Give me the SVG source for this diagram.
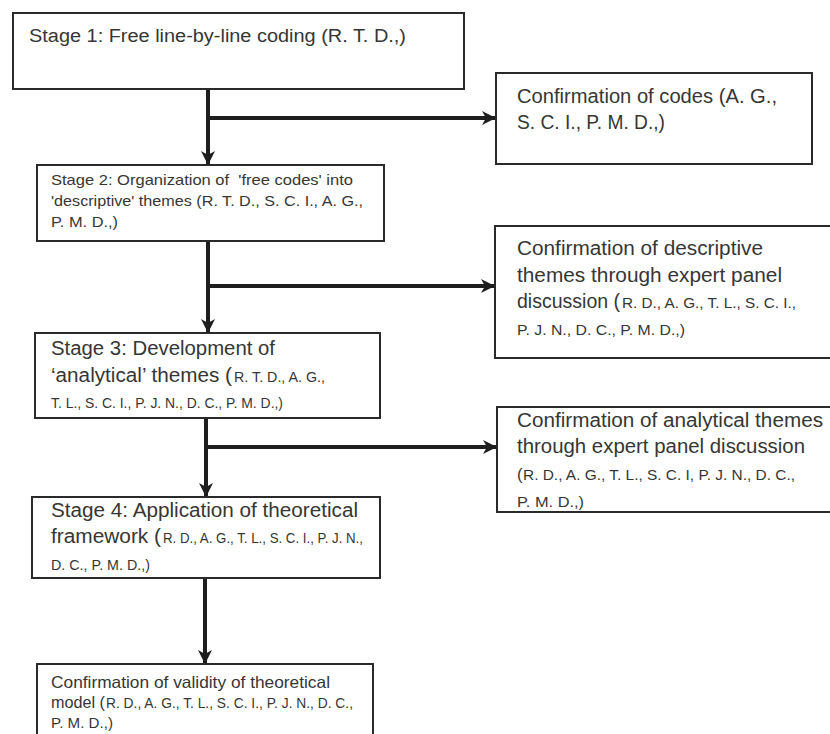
<svg xmlns="http://www.w3.org/2000/svg" width="830" height="734" viewBox="0 0 830 734">
  <style>
    .box { fill: #ffffff; stroke: #2a2a2a; stroke-width: 2; }
    .link { stroke: #1e1e1e; stroke-width: 4; fill: none; }
    text { font-family: "Liberation Sans", Arial, sans-serif; fill: #363636; }
    .s1 { font-size: 18px; }
    .lg { font-size: 20px; }
    .md { font-size: 15px; }
    .m5 { font-size: 16.5px; }
    .sm { font-size: 14px; }
  </style>
  <defs>
    <marker id="arrow" viewBox="0 0 14 14" refX="13" refY="7" markerWidth="14" markerHeight="14" markerUnits="userSpaceOnUse" orient="auto">
      <path d="M0,0 L14,7 L0,14 L4,7 Z" fill="#1e1e1e"/>
    </marker>
  </defs>
  <rect width="830" height="734" fill="#ffffff"/>

  <!-- connectors -->
  <g id="connectors">
    <path class="link" d="M208,89 V164" marker-end="url(#arrow)"/>
    <path class="link" d="M208,118 H495" marker-end="url(#arrow)"/>
    <path class="link" d="M208,241 V332" marker-end="url(#arrow)"/>
    <path class="link" d="M208,286 H494" marker-end="url(#arrow)"/>
    <path class="link" d="M206,418 V496" marker-end="url(#arrow)"/>
    <path class="link" d="M206,447 H496" marker-end="url(#arrow)"/>
    <path class="link" d="M205,578 V663" marker-end="url(#arrow)"/>
  </g>

  <!-- Stage 1 -->
  <g id="stage1">
    <rect class="box" x="13" y="13" width="451" height="76"/>
    <text class="s1" x="29" y="42" textLength="377" lengthAdjust="spacingAndGlyphs">Stage 1: Free line-by-line coding (R. T. D.,)</text>
  </g>

  <!-- Confirmation of codes -->
  <g id="confirm1">
    <rect class="box" x="496" y="73" width="316" height="91"/>
    <text class="lg" x="517" y="103" textLength="260" lengthAdjust="spacingAndGlyphs">Confirmation of codes (A. G.,</text>
    <text class="lg" x="517" y="129" textLength="148" lengthAdjust="spacingAndGlyphs">S. C. I., P. M. D.,)</text>
  </g>

  <!-- Stage 2 -->
  <g id="stage2">
    <rect class="box" x="37" y="165" width="347" height="76"/>
    <text class="md" x="51" y="185" textLength="302" lengthAdjust="spacingAndGlyphs" xml:space="preserve">Stage 2: Organization of  'free codes' into</text>
    <text class="md" x="51" y="206" textLength="312" lengthAdjust="spacingAndGlyphs">'descriptive' themes (R. T. D., S. C. I., A. G.,</text>
    <text class="md" x="51" y="227" textLength="67" lengthAdjust="spacingAndGlyphs">P. M. D.,)</text>
  </g>

  <!-- Confirmation of descriptive themes -->
  <g id="confirm2">
    <rect class="box" x="495" y="226" width="345" height="132"/>
    <text class="lg" x="517" y="255" textLength="246" lengthAdjust="spacingAndGlyphs">Confirmation of descriptive</text>
    <text class="lg" x="517" y="282" textLength="265" lengthAdjust="spacingAndGlyphs">themes through expert panel</text>
    <text class="lg" x="517" y="308" textLength="103" lengthAdjust="spacingAndGlyphs">discussion (</text>
    <text class="sm" x="622" y="308" textLength="174" lengthAdjust="spacingAndGlyphs">R. D., A. G., T. L., S. C. I.,</text>
    <text class="sm" x="517" y="335" textLength="168" lengthAdjust="spacingAndGlyphs">P. J. N., D. C., P. M. D.,)</text>
  </g>

  <!-- Stage 3 -->
  <g id="stage3">
    <rect class="box" x="35" y="333" width="345" height="85"/>
    <text class="lg" x="51" y="355" textLength="224" lengthAdjust="spacingAndGlyphs">Stage 3: Development of</text>
    <text class="lg" x="51" y="382" textLength="181" lengthAdjust="spacingAndGlyphs">‘analytical’ themes (</text>
    <text class="sm" x="234" y="382" textLength="91" lengthAdjust="spacingAndGlyphs">R. T. D., A. G.,</text>
    <text class="sm" x="51" y="408" textLength="232" lengthAdjust="spacingAndGlyphs">T. L., S. C. I., P. J. N., D. C., P. M. D.,)</text>
  </g>

  <!-- Confirmation of analytical themes -->
  <g id="confirm3">
    <rect class="box" x="497" y="407" width="343" height="105"/>
    <text class="lg" x="517" y="427" textLength="306" lengthAdjust="spacingAndGlyphs">Confirmation of analytical themes</text>
    <text class="lg" x="517" y="453" textLength="288" lengthAdjust="spacingAndGlyphs">through expert panel discussion</text>
    <text class="m5" x="517" y="480">(</text>
    <text class="sm" x="523" y="480" textLength="272" lengthAdjust="spacingAndGlyphs">R. D., A. G., T. L., S. C. I, P. J. N., D. C.,</text>
    <text class="sm" x="517" y="507" textLength="67" lengthAdjust="spacingAndGlyphs">P. M. D.,)</text>
  </g>

  <!-- Stage 4 -->
  <g id="stage4">
    <rect class="box" x="32" y="497" width="348" height="81"/>
    <text class="lg" x="51" y="517" textLength="307" lengthAdjust="spacingAndGlyphs">Stage 4: Application of theoretical</text>
    <text class="lg" x="51" y="543" textLength="110" lengthAdjust="spacingAndGlyphs">framework (</text>
    <text class="sm" x="163" y="543" textLength="200" lengthAdjust="spacingAndGlyphs">R. D., A. G., T. L., S. C. I., P. J. N.,</text>
    <text class="sm" x="51" y="570" textLength="99" lengthAdjust="spacingAndGlyphs">D. C., P. M. D.,)</text>
  </g>

  <!-- Confirmation of validity -->
  <g id="validity">
    <rect class="box" x="37" y="664" width="336" height="90"/>
    <text class="m5" x="51" y="688" textLength="279" lengthAdjust="spacingAndGlyphs">Confirmation of validity of theoretical</text>
    <text class="m5" x="51" y="708" textLength="54" lengthAdjust="spacingAndGlyphs">model (</text>
    <text class="md" x="106" y="708" textLength="247" lengthAdjust="spacingAndGlyphs">R. D., A. G., T. L., S. C. I., P. J. N., D. C.,</text>
    <text class="md" x="51" y="728" textLength="62" lengthAdjust="spacingAndGlyphs">P. M. D.,)</text>
  </g>
</svg>
